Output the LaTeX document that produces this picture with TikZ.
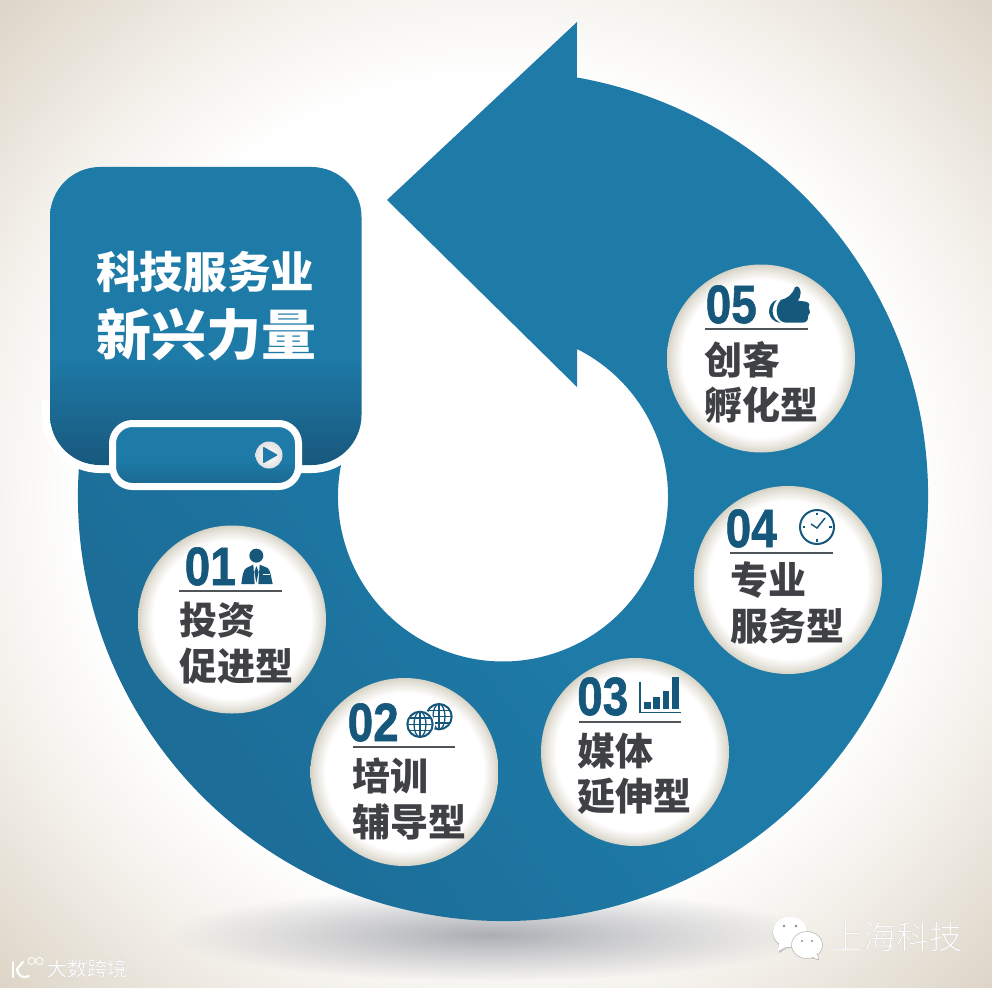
\documentclass[tikz,border=0pt]{standalone}
\usepackage{fontspec}
\usetikzlibrary{fadings,calc}
\setmainfont{Liberation Sans}
\newfontfamily\numf[FakeBold=1.2]{Liberation Sans Bold}
\newfontfamily\cjkb{Noto Sans CJK SC Black}
\newfontfamily\cjkl{Noto Sans CJK SC Light}
\newfontfamily\cjkr{Noto Sans CJK SC}
\definecolor{mainblue}{RGB}{30,122,167}
\definecolor{darkblue}{RGB}{24,88,125}
\definecolor{iconblue}{RGB}{22,88,124}
\definecolor{inkgray}{RGB}{63,65,68}
\definecolor{rimbeige}{RGB}{214,210,197}
\definecolor{cornerbeige}{RGB}{220,212,198}
\definecolor{midbeige}{RGB}{243,240,234}
\definecolor{ruleg}{RGB}{80,85,90}
\definecolor{shadowg}{RGB}{172,174,180}
\pgfdeclareradialshading{bgsh}{\pgfpoint{0bp}{0bp}}{color(0bp)=(white); color(21bp)=(white); color(27bp)=(midbeige); color(35.5bp)=(cornerbeige); color(50bp)=(cornerbeige)}
\pgfdeclareradialshading{bubsh}{\pgfpoint{0bp}{0bp}}{color(0bp)=(white); color(21bp)=(white); color(24bp)=(rimbeige!70!white); color(25bp)=(rimbeige); color(50bp)=(rimbeige)}
\pgfdeclareverticalshading{cardsh}{100bp}{color(0bp)=(darkblue); color(25bp)=(darkblue); color(43bp)=(mainblue); color(100bp)=(mainblue)}
\pgfdeclareverticalshading{pillsh}{100bp}{color(0bp)=(darkblue!60!mainblue); color(25bp)=(darkblue!60!mainblue); color(45bp)=(mainblue); color(100bp)=(mainblue)}
\pgfdeclareverticalshading{ringsh}{100bp}{color(0bp)=(darkblue!80!mainblue); color(30bp)=(darkblue!35!mainblue); color(48bp)=(mainblue); color(100bp)=(mainblue)}
\tikzfading[name=shadowfade, inner color=transparent!0, outer color=transparent!100]
\tikzset{
  bubble/.style={circle,minimum size=188pt,inner sep=0pt,shading=bubsh},
  numlabel/.style={anchor=base west,inner sep=0pt,text=iconblue,font=\fontsize{54}{54}\selectfont\numf},
  cjklabel/.style={anchor=base west,inner sep=0pt,text=inkgray,font=\fontsize{38}{38}\selectfont\cjkb},
  titlea/.style={anchor=base west,inner sep=0pt,text=white,font=\fontsize{43.6}{44}\selectfont\cjkb},
  titleb/.style={anchor=base west,inner sep=0pt,text=white,font=\fontsize{55}{55}\selectfont\cjkb},
  headrule/.style={draw=ruleg,line width=1.4pt},
  markbig/.style={anchor=base west,inner sep=0pt,font=\fontsize{33}{33}\selectfont\cjkl},
  marksmall/.style={anchor=base west,inner sep=0pt,font=\fontsize{20}{20}\selectfont\cjkr},
}
\newcommand{\globeicon}[2]{%
  \fill[white] (#1,#2) circle (45);
  \draw[iconblue,line width=2pt] (#1,#2) circle (38);
  \begin{scope}
  \clip (#1,#2) circle (38);
  \draw[iconblue,line width=1.3pt] (#1,#2) ellipse [x radius=18,y radius=38];
  \draw[iconblue,line width=1.3pt] (#1,#2-38) -- (#1,#2+38);
  \draw[iconblue,line width=1.3pt] (#1-38,#2) -- (#1+38,#2);
  \draw[iconblue,line width=1.3pt] (#1-38,#2-19) -- (#1+38,#2-19);
  \draw[iconblue,line width=1.3pt] (#1-38,#2+19) -- (#1+38,#2+19);
  \end{scope}}
\begin{document}
\begin{tikzpicture}[x=1pt,y=-1pt]
\useasboundingbox (0,0) rectangle (992,987);
\shade[shading=bgsh] (0,0) rectangle (992,987);
% ground shadow
\fill[shadowg,path fading=shadowfade] (490,935) ellipse [x radius=320,y radius=46];
% ring with arrow
\begin{scope}[y=1pt,shift={(0pt,-987pt)}]
\shade[shading=ringsh,shading angle=-55]
  (577,987-22) -- (387,987-200) -- (577,987-387) -- (577,987-349)
  arc[start angle=63.35,end angle=-195,radius=165]
  -- ($(503,491)+(-190:425)$)
  arc[start angle=-190,end angle=80,radius=425]
  -- cycle;
\end{scope}
% card
\begin{scope}
\clip (0,400) rectangle (992,480);
\draw[white,line width=16pt,rounded corners=50pt] (50,167) rectangle (361.5,465);
\end{scope}
\shade[shading=cardsh,rounded corners=50pt] (50,167) rectangle (361.5,465);
\node[titlea] (title1) at (96,288) {科技服务业};
\node[titleb] (title2) at (96,355) {新兴力量};
\shade[shading=pillsh,draw=white,line width=7pt,rounded corners=20pt] (112.5,423.5) rectangle (298.5,486.5);
\shade[inner color=white,outer color=white!88!black] (269,455) circle (13.5);
\fill[mainblue,rounded corners=1pt] (263,446.5) -- (278,455) -- (263,463.5) -- cycle;
% bubbles
\node[bubble] (b5) at (761,358.5) {};
\node[bubble] (b4) at (788,580) {};
\node[bubble] (b3) at (635,752) {};
\node[bubble] (b2) at (404.5,772) {};
\node[bubble] (b1) at (232,619.5) {};
% numbers
\node[numlabel] (n5) at (705.5,323) {\scalebox{.85}[1]{05}};
\node[numlabel] (n4) at (725.5,547) {\scalebox{.85}[1]{04}};
\node[numlabel] (n3) at (577,715) {\scalebox{.85}[1]{03}};
\node[numlabel] (n2) at (347.5,741) {\scalebox{.85}[1]{02}};
\node[numlabel] (n1) at (184.5,585) {\scalebox{.85}[1]{01}};
% rules
\draw[headrule] (705,329) -- (808,329);
\draw[headrule] (730,553) -- (833,553);
\draw[headrule] (578.5,722) -- (681,722);
\draw[headrule] (353,747) -- (455,747);
\draw[headrule] (179,591) -- (282,591);
% labels
\node[cjklabel] (t5a) at (704,374) {创客};
\node[cjklabel] (t5b) at (704,419) {孵化型};
\node[cjklabel] (t4a) at (730,594) {专业};
\node[cjklabel] (t4b) at (730,640) {服务型};
\node[cjklabel] (t3a) at (577,765) {媒体};
\node[cjklabel] (t3b) at (577,810) {延伸型};
\node[cjklabel] (t2a) at (352,790) {培训};
\node[cjklabel] (t2b) at (352,836) {辅导型};
\node[cjklabel] (t1a) at (179,634) {投资};
\node[cjklabel] (t1b) at (179,680) {促进型};
% thumb icon
\begin{scope}[shift={(760,280)},x=0.3333pt,y=-0.3333pt]
\fill[iconblue] (62,60) .. controls (80,55) and (95,48) .. (105,22) .. controls (112,14) and (122,24) .. (122,38) .. controls (122,48) and (118,56) .. (114,62) -- (138,65) .. controls (150,68) and (150,78) .. (146,84) .. controls (152,94) and (150,104) .. (144,108) .. controls (146,120) and (138,128) .. (128,128) -- (78,128) .. controls (50,128) and (40,85) .. (62,60) -- cycle;
\fill[iconblue] (50,60) .. controls (20,68) and (15,125) .. (62,128) .. controls (35,118) and (30,85) .. (50,60) -- cycle;
\end{scope}
% person icon
\begin{scope}[shift={(235,540)},x=0.3333pt,y=-0.3333pt]
\fill[iconblue] (64,47) circle (21);
\fill[iconblue] (19,132) .. controls (22,110) and (24,90) .. (34,84) -- (55,74) -- (59,132) -- cycle;
\fill[iconblue] (64,78) -- (71,96) -- (64,128) -- (58,96) -- cycle;
\fill[iconblue] (74,74) -- (98,84) .. controls (106,90) and (108,110) .. (113,132) -- (70,132) -- cycle;
\draw[white,line width=0.8pt] (84,104) -- (104,104);
\end{scope}
% globe icon
\begin{scope}[shift={(400,695)},x=0.3333pt,y=-0.3333pt]
\globeicon{117}{65}
\globeicon{60}{88}
\end{scope}
% bars icon
\begin{scope}[shift={(630,670)},x=0.3333pt,y=-0.3333pt]
\draw[iconblue,line width=1.6pt] (30,35) -- (30,128) -- (152,128);
\fill[iconblue] (42,95) rectangle (62,118);
\fill[iconblue] (70,80) rectangle (90,118);
\fill[iconblue] (98,62) rectangle (118,118);
\fill[iconblue] (126,22) rectangle (146,118);
\end{scope}
% clock icon
\draw[iconblue,line width=2pt] (817,527) circle (17);
\draw[iconblue,line width=1.5pt] (811,524) -- (817,528) -- (825,518);
\draw[iconblue,line width=1.2pt] (817,512.5) -- (817,515) (817,539) -- (817,541.5) (802.5,527) -- (805,527) (829,527) -- (831.5,527);
% watermarks
\fill[black!25] (790,933) ellipse [x radius=17.5,y radius=15];
\fill[black!25] (778,943) -- (779,953) -- (790,946) -- cycle;
\fill[white] (790,932) ellipse [x radius=17,y radius=15];
\fill[white] (779,942) -- (778,951) -- (790,945) -- cycle;
\fill[black!45] (784,926) circle (1.3) (796,926) circle (1.3);
\draw[black!30,fill=white,line width=0.5pt] (807,945) ellipse [x radius=15.5,y radius=13.5];
\fill[white] (811,955) -- (819,960) -- (816,950) -- cycle;
\draw[black!30,line width=0.5pt] (812,958) -- (819,960) -- (817,953);
\fill[black!45] (802,941) circle (1.2) (812,941) circle (1.2);
\node[markbig,text=black!35] (wm1s) at (830.7,949.7) {上海科技};
\node[markbig,text=white] (wm1) at (830,949) {上海科技};
\node[marksmall,text=black!35] (wm2s) at (47.7,976.7) {大数跨境};
\node[marksmall,text=white] (wm2) at (47,976) {大数跨境};
\draw[white,line width=2pt,line cap=round] (13,962) -- (13,977);
\draw[white,line width=2.2pt,line cap=round] (23,962) -- (17,969) .. controls (18,976) and (23,979) .. (29,976);
\draw[white,line width=0.8pt] (31.5,961) circle (3.6) (39.5,961) circle (3.6);
\end{tikzpicture}
\end{document}
